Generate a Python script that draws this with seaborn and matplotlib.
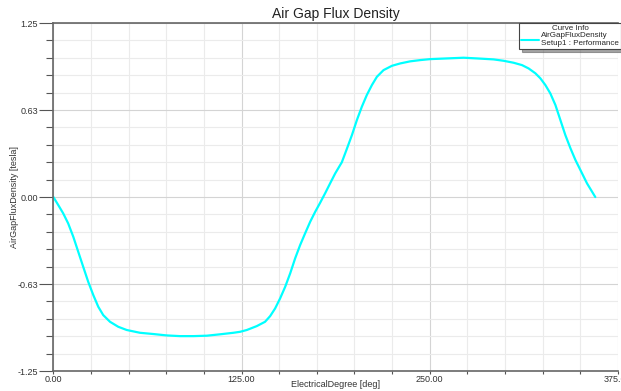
import numpy as np
import pandas as pd
import seaborn as sns
import matplotlib
matplotlib.use('Agg')
import matplotlib.pyplot as plt
from matplotlib.ticker import MultipleLocator
from matplotlib.lines import Line2D

# values
deg = [0.0, 3.2, 6.5, 9.8, 13.2, 16.5, 19.8, 23.1, 26.5, 29.8, 33.1, 37.6, 43.1,
       48.7, 57.5, 66.4, 75.3, 84.1, 93.0, 101.9, 110.7, 119.6, 124.0, 128.5,
       135.1, 140.6, 144.0, 147.3, 150.6, 154.0, 157.3, 160.6, 163.9, 167.2,
       170.6, 173.9, 177.2, 180.5, 183.8, 187.2, 191.6, 194.9, 198.3, 201.6,
       204.9, 208.2, 211.6, 214.9, 219.3, 224.9, 230.4, 237.0, 243.7, 250.3,
       261.4, 272.5, 281.4, 292.4, 299.1, 305.7, 311.3, 315.7, 320.2, 323.5,
       326.8, 330.1, 333.5, 336.8, 340.1, 343.5, 346.8, 350.1, 354.5, 360.0]
flux = [0.0, -0.057, -0.117, -0.189, -0.285, -0.393, -0.501, -0.608, -0.704,
        -0.788, -0.848, -0.896, -0.932, -0.955, -0.975, -0.984, -0.994, -0.999,
        -0.999, -0.996, -0.986, -0.975, -0.968, -0.955, -0.927, -0.896, -0.855,
        -0.800, -0.728, -0.644, -0.548, -0.440, -0.345, -0.261, -0.177, -0.106,
        -0.041, 0.027, 0.098, 0.170, 0.250, 0.345, 0.445, 0.553, 0.649, 0.733,
        0.805, 0.864, 0.912, 0.943, 0.960, 0.975, 0.984, 0.991, 0.996, 1.001,
        0.996, 0.989, 0.979, 0.965, 0.948, 0.924, 0.889, 0.853, 0.805, 0.745,
        0.661, 0.553, 0.445, 0.350, 0.266, 0.194, 0.098, 0.0]

yticks = [-1.25, -0.625, 0.0, 0.625, 1.25]
ylabels = ['-1.25', '-0.63', '0.00', '0.63', '1.25']
xticks = [0, 125, 250, 375]
xlabels = ['0.00', '125.00', '250.00', '375.00']

df = pd.DataFrame({'deg': deg, 'flux': flux})

sns.set_style('white')
plt.rcParams['font.family'] = ['Liberation Sans', 'DejaVu Sans']

fig = plt.figure(figsize=(6.21, 3.91), dpi=100)
ax = fig.add_axes([0.086, 0.051, 0.909, 0.890])

sns.lineplot(data=df, x='deg', y='flux', color='#00ffff', linewidth=1.6, ax=ax)

ax.set_xlim(0, 375)
ax.set_ylim(-1.25, 1.25)
ax.set_xticks(xticks)
ax.set_xticklabels(xlabels)
ax.set_yticks(yticks)
ax.set_yticklabels(ylabels)
ax.xaxis.set_minor_locator(MultipleLocator(25))
ax.yaxis.set_minor_locator(MultipleLocator(0.125))

ax.grid(which='major', color='#d4d4d4', linewidth=0.8)
ax.grid(which='minor', color='#ebebeb', linewidth=0.8)
ax.set_axisbelow(True)

ax.tick_params(axis='y', which='major', direction='out', length=10, width=0.8,
               color='#555555', labelsize=6.5, labelcolor='#333333', pad=1, left=True)
ax.tick_params(axis='y', which='minor', direction='out', length=5, width=0.8,
               color='#555555', left=True)
ax.tick_params(axis='x', which='both', direction='out', length=2, width=0.8,
               color='#555555', labelsize=6.5, labelcolor='#333333', pad=1, bottom=True)

for side in ['left', 'top', 'bottom']:
    ax.spines[side].set_color('#666666')
    ax.spines[side].set_linewidth(1.2)
ax.spines['right'].set_visible(False)

ax.set_xlabel('ElectricalDegree [deg]', fontsize=6.5, color='#333333')
ax.xaxis.set_label_coords(0.5, -0.025)
ax.set_ylabel('AirGapFluxDensity [tesla]', fontsize=6.5, color='#333333')
ax.yaxis.set_label_coords(-0.061, 0.5)
ax.set_title('Air Gap Flux Density', fontsize=10, color='#222222', pad=4)

handle = Line2D([0], [0], color='#00ffff', linewidth=1.5)
leg = ax.legend([handle], ['AirGapFluxDensity\nSetup1 : Performance'],
                title='Curve Info', loc='upper right', bbox_to_anchor=(1.005, 1.0),
                fontsize=5.8, title_fontsize=5.8, frameon=True, fancybox=False,
                shadow=True, borderpad=0.2, handlelength=2.2, handletextpad=0.3,
                borderaxespad=0.0, labelspacing=0.1)
leg.get_frame().set_edgecolor('#444444')
leg.get_frame().set_linewidth(0.8)

fig.savefig('out.png', dpi=100)
